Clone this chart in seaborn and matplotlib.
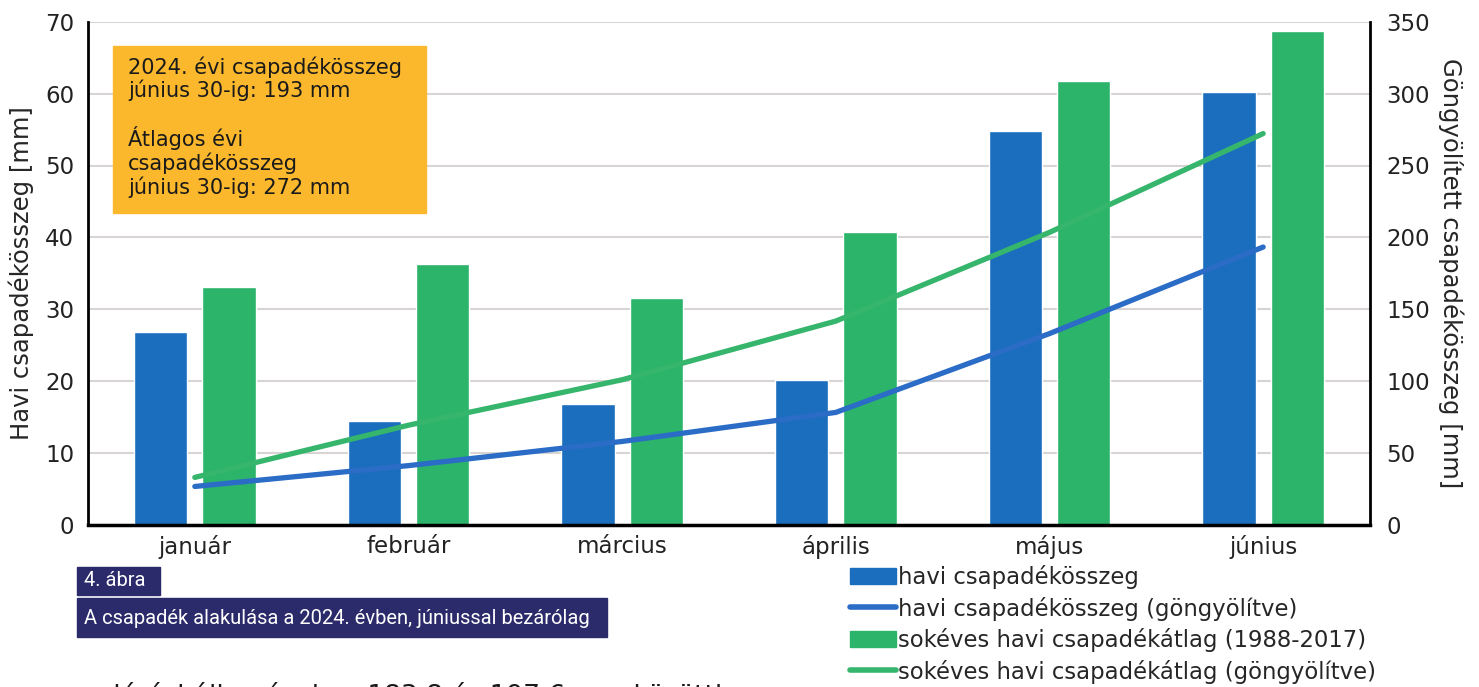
import numpy as np
import pandas as pd
import matplotlib.pyplot as plt
import seaborn as sns
from matplotlib.patches import Rectangle, Patch
from matplotlib.lines import Line2D

months = ["január", "február", "március", "április", "május", "június"]
havi_2024 = [26.8, 14.5, 16.8, 20.2, 54.8, 60.2]
havi_atlag = [33.1, 36.3, 31.6, 40.8, 61.7, 68.7]
gongy_2024 = [26.8, 41.3, 58.1, 78.3, 133.1, 193.3]
gongy_atlag = [33.1, 69.4, 101.0, 141.8, 203.5, 272.2]

bar_labels = ["havi csapadékösszeg", "sokéves havi csapadékátlag (1988-2017)"]
line_labels = ["havi csapadékösszeg (göngyölítve)", "sokéves havi csapadékátlag (göngyölítve)"]
left_ticks = [0, 10, 20, 30, 40, 50, 60, 70]
right_ticks = [0, 50, 100, 150, 200, 250, 300, 350]

box_text = ("2024. évi csapadékösszeg\njúnius 30-ig: 193 mm\n\n"
            "Átlagos évi\ncsapadékösszeg\njúnius 30-ig: 272 mm")
fig_num = "4. ábra"
fig_caption = "A csapadék alakulása a 2024. évben, júniussal bezárólag"
body_text = "elérési állomásokon 183,8 és 197,6 mm közötti"

BLUE = "#1a6ebd"
GREEN = "#2bb46a"
BLUE_LINE = "#2a6cc6"
GREEN_LINE = "#36b56c"
NAVY = "#2b2a6b"
ORANGE = "#fbb82c"

sns.set_theme(style="white")
plt.rcParams["font.family"] = ["DejaVu Sans"]

W, H = 1479, 687
fig = plt.figure(figsize=(W / 100, H / 100), dpi=100)
ax = fig.add_axes([88 / W, 1 - 525 / H, (1370 - 88) / W, (525 - 21.7) / H])

df = pd.DataFrame({
    "month": months * 2,
    "value": havi_2024 + havi_atlag,
    "series": [bar_labels[0]] * 6 + [bar_labels[1]] * 6,
})
sns.barplot(data=df, x="month", y="value", hue="series", hue_order=bar_labels,
            palette=[BLUE, GREEN], width=0.64, gap=0.22, saturation=1,
            legend=False, ax=ax)

ax.set_xlim(-0.5, 5.5)
ax.set_ylim(0, 70)
ax.set_yticks(left_ticks)
ax.yaxis.grid(True, color="#d8d4d4", lw=1.5)
ax.set_axisbelow(True)
ax.set_xlabel("")
ax.set_ylabel("Havi csapadékösszeg [mm]", fontsize=17.5, labelpad=8)
ax.tick_params(axis="x", length=0, labelsize=16.5, pad=7, colors="#222222")
ax.tick_params(axis="y", length=0, labelsize=16.5, pad=10, colors="#222222")
for s in ["top", "right"]:
    ax.spines[s].set_visible(False)
ax.spines["left"].set_color("black")
ax.spines["left"].set_linewidth(2)
ax.spines["bottom"].set_color("black")
ax.spines["bottom"].set_linewidth(2.5)

ax2 = ax.twinx()
xs = np.arange(len(months))
sns.lineplot(x=xs, y=gongy_2024, color=BLUE_LINE, lw=3.8, ax=ax2)
sns.lineplot(x=xs, y=gongy_atlag, color=GREEN_LINE, lw=3.8, ax=ax2)
ax2.set_ylim(0, 350)
ax2.set_xlim(-0.5, 5.5)
ax2.set_yticks(right_ticks)
ax2.tick_params(axis="y", length=0, labelsize=16.5, pad=12, colors="#222222")
ax2.set_ylabel("Göngyölített csapadékösszeg [mm]", fontsize=17.5, rotation=270, labelpad=24)
for s in ["top", "left", "bottom"]:
    ax2.spines[s].set_visible(False)
ax2.spines["right"].set_color("black")
ax2.spines["right"].set_linewidth(2)

# orange info box
fig.patches.append(Rectangle((113 / W, 1 - 213 / H), (426 - 113) / W, (213 - 46) / H,
                             transform=fig.transFigure, color=ORANGE, zorder=5))
fig.text(128 / W, 1 - 56 / H, box_text, fontsize=15, va="top", ha="left",
         linespacing=1.13, color="#1a1a1a", zorder=6)

# caption boxes
fig.patches.append(Rectangle((77 / W, 1 - 595 / H), (160 - 77) / W, (595 - 567) / H,
                             transform=fig.transFigure, color=NAVY, zorder=5))
fig.text(84 / W, 1 - 581 / H, fig_num, fontsize=14.5, color="white", va="center",
         family=["Roboto", "DejaVu Sans"], zorder=6)
fig.patches.append(Rectangle((77 / W, 1 - 637 / H), (607 - 77) / W, (637 - 598) / H,
                             transform=fig.transFigure, color=NAVY, zorder=5))
fig.text(84 / W, 1 - 618 / H, fig_caption, fontsize=14.5, color="white", va="center",
         family=["Roboto", "DejaVu Sans"], zorder=6)
fig.text(97 / W, 1 - 704 / H, body_text, fontsize=19, color="#1a1a1a", va="baseline")

handles = [Patch(color=BLUE), Line2D([], [], color=BLUE_LINE, lw=4),
           Patch(color=GREEN), Line2D([], [], color=GREEN_LINE, lw=4)]
labels = [bar_labels[0], line_labels[0], bar_labels[1], line_labels[1]]
fig.legend(handles, labels, loc="upper left", bbox_to_anchor=(850 / W, 1 - 565 / H),
           frameon=False, fontsize=16.4, handlelength=2.0, handleheight=0.75,
           handletextpad=0.1, labelspacing=0.33, borderpad=0, borderaxespad=0)

fig.savefig("out.png", dpi=100)
